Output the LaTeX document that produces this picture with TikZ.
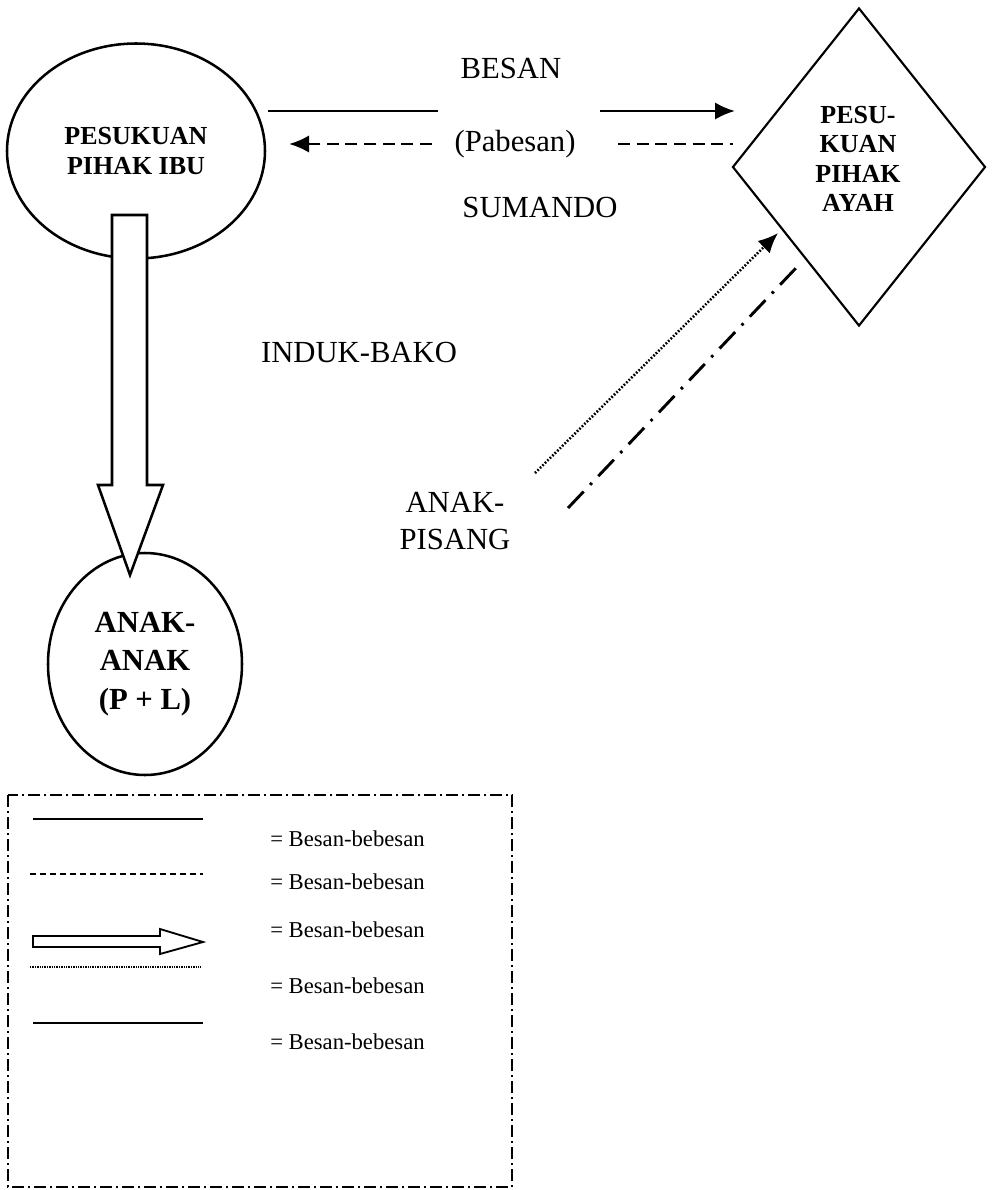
\documentclass[tikz,border=0pt]{standalone}
\usepackage{fontspec}
\setmainfont{Liberation Serif}
\usetikzlibrary{shapes.geometric,arrows.meta,calc}

\def\pxu{0.75pt}

\begin{document}
\begin{tikzpicture}[x=0.75pt,y=-0.75pt,line width=1.9pt]
  \tikzset{>={Latex[length=15pt,width=13pt]}}
  \tikzset{
    lbl/.style={font=\fontsize{23}{28}\selectfont, align=center, inner sep=0pt},
    boldlbl/.style={font=\bfseries\fontsize{19.5}{22.5}\selectfont, align=center, inner sep=0pt},
    keytext/.style={font=\fontsize{17}{20}\selectfont, anchor=west, inner sep=0pt},
    hollow/.style={draw, fill=white, line width=1.9pt, line join=miter},
    dashln/.style={dash pattern=on 9pt off 5pt},
    dotln/.style={dash pattern=on 1.3pt off 1.3pt},
    dashdotln/.style={line width=2.2pt, dash pattern=on 17pt off 7pt on 2pt off 7pt},
    keybox/.style={line width=1.6pt, dash pattern=on 9pt off 3pt on 1.5pt off 3pt}
  }
  % page has the size of the reference
  \useasboundingbox (0,0) rectangle (993,1190);

  % the three groups
  \node[draw, ellipse, minimum width=258*\pxu, minimum height=215*\pxu, boldlbl]
    (ibu) at (136,151) {PESUKUAN\\PIHAK IBU};
  \node[draw, diamond, line width=1.6pt, minimum width=253*\pxu, minimum height=318*\pxu,
    inner sep=0pt] (ayah) at (859,167) {};
  \node[boldlbl, font=\bfseries\fontsize{19.5}{22}\selectfont] (ayahtxt) at (858,159)
    {PESU-\\KUAN\\PIHAK\\AYAH};
  \node[draw, ellipse, minimum width=194*\pxu, minimum height=222*\pxu, inner sep=0pt,
    font=\bfseries\fontsize{23}{29}\selectfont, align=center]
    (anak) at (145,664) {ANAK-\\ANAK\\(P + L)};

  % texts between the groups
  \node[lbl] (besan) at (511,68) {BESAN};
  \node[lbl] (pabesan) at (515,144) {(Pabesan)};
  \node[lbl] (sumando) at (540,207) {SUMANDO};
  \node[lbl] (bako) at (359,352) {INDUK-BAKO};
  \node[lbl] (pisang) at (455,521) {ANAK-\\PISANG};

  % end points of the connectors
  \coordinate (s1) at (268,111);
  \coordinate (s2) at (438,111);
  \coordinate (s3) at (600,111);
  \coordinate (s4) at (735,111);
  \coordinate (d1) at (432,144);
  \coordinate (d2) at (289,144);
  \coordinate (d3) at (618,144);
  \coordinate (d4) at (733,144);
  \coordinate (p1) at (535,473);
  \coordinate (p2) at (778,233);
  \coordinate (q1) at (568,508);
  \coordinate (q2) at (796,268);

  \draw (s1) -- (s2);
  \draw[->] (s3) -- (s4);
  \draw[->, dashln] (d1) -- (d2);
  \draw[dashln] (d3) -- (d4);
  \draw[->, dotln] (p1) -- (p2);
  \draw[dashdotln] (q1) -- (q2);

  % fat arrow from the mother's side down to the children
  \coordinate (fattop) at (130,215);
  \coordinate (fattip) at (130,575);
  \draw[hollow] ($(fattop)+(-18,0)$) -- ($(fattop)+(17,0)$)
    -- ($(fattip)+(17,-90)$) -- ($(fattip)+(33,-90)$) -- (fattip)
    -- ($(fattip)+(-32,-90)$) -- ($(fattip)+(-18,-90)$) -- cycle;

  % legend
  \draw[keybox] (8,795) rectangle (512,1187);
  \coordinate (k1a) at (33,819);  \coordinate (k1b) at (203,819);
  \coordinate (k2a) at (30,874);  \coordinate (k2b) at (203,874);
  \coordinate (k3a) at (33,942);  \coordinate (k3b) at (203,942);
  \coordinate (k4a) at (30,967);  \coordinate (k4b) at (201,967);
  \coordinate (k5a) at (33,1023); \coordinate (k5b) at (203,1023);
  \draw (k1a) -- (k1b);
  \draw[dash pattern=on 4.5pt off 3pt] (k2a) -- (k2b);
  \draw[hollow, line width=1.4pt] ($(k3a)+(0,-6)$) -- ($(k3b)+(-43,-6)$)
    -- ($(k3b)+(-43,-13)$) -- (k3b) -- ($(k3b)+(-43,12)$)
    -- ($(k3b)+(-43,5)$) -- ($(k3a)+(0,5)$) -- cycle;
  \draw[line width=2.2pt, dash pattern=on 1pt off 0.8pt] (k4a) -- (k4b);
  \draw (k5a) -- (k5b);
  \foreach \y [count=\i] in {839,882,930,986,1042}
    \node[keytext] (key\i) at (269,\y) {= Besan-bebesan};
\end{tikzpicture}
\end{document}
